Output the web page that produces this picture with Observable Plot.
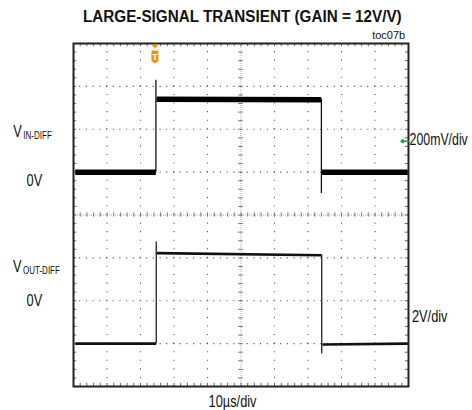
<!DOCTYPE html>
<html>
<head>
<meta charset="utf-8">
<script src="https://cdn.jsdelivr.net/npm/d3@7"></script>
<script src="https://cdn.jsdelivr.net/npm/@observablehq/plot@0.6"></script>
<style>
  body { margin: 0; background: #fff; }
  #title { position: relative; height: 28px; width: 472px; font: bold 17.2px "Liberation Sans", Arial, sans-serif; color: #111; }
  #title span { position: absolute; left: 82.7px; top: 5.5px; white-space: nowrap; transform: scaleX(0.887); transform-origin: 0 0; }
</style>
</head>
<body>
<div id="title"><span>LARGE-SIGNAL TRANSIENT (GAIN = 12V/V)</span></div>
<div id="chart"></div>
<script>
// ---- data (time in divisions of 10µs, amplitude in vertical divisions) ----
const chartTitle = "LARGE-SIGNAL TRANSIENT (GAIN = 12V/V)";
const figureId = "toc07b";

// input trace (200mV/div): flat segments
const inSegT0 = [0.05, 2.48, 7.42];
const inSegT1 = [2.46, 7.40, 9.98];
const inSegV0 = [1.00, 2.70, 1.00];
const inSegV1 = [1.00, 2.69, 1.00];
// input transitions
const inEdgeT = [2.46, 7.40];
const inEdgeFrom = [1.00, 2.70];
const inEdgeTo = [3.14, 0.50];

// output trace (2V/div): flat segments
const outSegT0 = [0.05, 2.49, 7.43];
const outSegT1 = [2.47, 7.41, 9.98];
const outSegV0 = [-3.00, -0.89, -3.02];
const outSegV1 = [-3.00, -0.94, -3.00];
// output transitions
const outEdgeT = [2.47, 7.41];
const outEdgeFrom = [-3.00, -0.94];
const outEdgeTo = [-0.63, -3.24];

// trigger and channel reference markers
const triggerT = [2.46];
const refArrowLevel = [1.72];

// labels
const labelText = ["V", "0V", "V", "0V", "200mV/div", "2V/div", "10µs/div"];
const labelX = [-1.80, -1.403, -1.809, -1.403, 10.03, 10.10, 4.03];
const labelY = [1.808, 0.665, -1.334, -2.111, 1.621, -2.500, -4.483];
const subText = ["IN-DIFF", "OUT-DIFF"];
const subX = [-1.50, -1.51];
const subY = [1.761, -1.376];
const idX = [8.916];
const idY = [4.105];

// ---- layout ----
const W = 472, H = 382, mT = 15, mB = 24, mL = 73, mR = 64;
const xdiv = (W - mL - mR) / 10, ydiv = (H - mT - mB) / 8;
const minorX = d3.range(1, 50).map(i => i / 5);
const minorY = d3.range(-19, 20).map(i => i / 5);
const tx = 3.2 / xdiv, ty = 3.2 / ydiv;

const trigSymbol = {
  draw(ctx) {
    ctx.moveTo(-3.5, 1); ctx.lineTo(3.5, 1); ctx.lineTo(0, 5); ctx.closePath();
    ctx.moveTo(-2, 7); ctx.lineTo(2, 7);
    ctx.quadraticCurveTo(3.5, 7, 3.5, 8.5);
    ctx.lineTo(3.5, 17.5); ctx.lineTo(0, 20); ctx.lineTo(-3.5, 17.5);
    ctx.lineTo(-3.5, 8.5); ctx.quadraticCurveTo(-3.5, 7, -2, 7); ctx.closePath();
  }
};

const font = "Liberation Sans, Arial, sans-serif";
const idx = n => d3.range(n);

const svg = Plot.plot({
  width: W, height: H,
  marginTop: mT, marginBottom: mB, marginLeft: mL, marginRight: mR,
  x: {domain: [0, 10], axis: null},
  y: {domain: [-4, 4], axis: null},
  style: {fontFamily: font, background: "white", overflow: "visible"},
  marks: [
    // dotted grid
    Plot.ruleX([1, 2, 3, 4, 6, 7, 8, 9], {stroke: "#555", strokeWidth: 1.1, strokeDasharray: `1.1,${ydiv / 5 - 1.1}`, strokeDashoffset: 0.55}),
    Plot.ruleY([-3, -2, -1, 1, 2, 3], {stroke: "#555", strokeWidth: 1.1, strokeDasharray: `1.1,${xdiv / 5 - 1.1}`, strokeDashoffset: 0.55}),
    // center cross
    Plot.ruleX([5], {stroke: "#aaa", strokeDasharray: "1,1"}),
    Plot.ruleY([0], {stroke: "#aaa", strokeDasharray: "1,1"}),
    Plot.ruleX(minorX, {x: d => d, y1: -0.05, y2: 0.05, stroke: "#777"}),
    Plot.ruleY(minorY, {y: d => d, x1: 5 - 0.07, x2: 5 + 0.07, stroke: "#777"}),
    // frame ticks
    Plot.ruleX(minorX, {x: d => d, y1: -4, y2: -4 + ty, stroke: "#666"}),
    Plot.ruleX(minorX, {x: d => d, y1: 4 - ty, y2: 4, stroke: "#666"}),
    Plot.ruleY(minorY, {y: d => d, x1: 0, x2: tx, stroke: "#666"}),
    Plot.ruleY(minorY, {y: d => d, x1: 10 - tx, x2: 10, stroke: "#666"}),
    // input trace
    Plot.link(idx(inSegT0.length), {x1: i => inSegT0[i], y1: i => inSegV0[i], x2: i => inSegT1[i], y2: i => inSegV1[i], stroke: "#000", strokeWidth: 5.5}),
    Plot.ruleX(idx(inEdgeT.length), {x: i => inEdgeT[i], y1: i => inEdgeFrom[i], y2: i => inEdgeTo[i], stroke: "#111", strokeWidth: 1.3}),
    // output trace
    Plot.link(idx(outSegT0.length), {x1: i => outSegT0[i], y1: i => outSegV0[i], x2: i => outSegT1[i], y2: i => outSegV1[i], stroke: "#111", strokeWidth: 2.6}),
    Plot.ruleX(idx(outEdgeT.length), {x: i => outEdgeT[i], y1: i => outEdgeFrom[i], y2: i => outEdgeTo[i], stroke: "#222", strokeWidth: 1.3}),
    // frame
    Plot.frame({stroke: "#222", strokeWidth: 2}),
    // trigger marker
    Plot.dot(triggerT, {x: d => d, y: () => 4, symbol: trigSymbol, r: 1, fill: "#F39200", stroke: "none", dx: -1}),
    Plot.text(triggerT, {x: d => d, y: () => 4, text: () => "T", dx: -1, dy: 13.5, fill: "white", fontWeight: "bold", fontSize: 9, lineAnchor: "middle"}),
    // channel 1 reference arrow
    Plot.arrow(refArrowLevel, {x1: () => 10, x2: () => 9.78, y1: d => d, y2: d => d, stroke: "#1a9b3a", strokeWidth: 1.6, headLength: 6, inset: 0}),
    // labels
    Plot.text(idx(labelText.length), {x: i => labelX[i], y: i => labelY[i], text: i => labelText[i], textAnchor: "start", lineAnchor: "bottom", fontSize: 16, fill: "#111"}),
    Plot.text(idx(subText.length), {x: i => subX[i], y: i => subY[i], text: i => subText[i], textAnchor: "start", lineAnchor: "bottom", fontSize: 10, fill: "#111"}),
    Plot.text(idx(1), {x: i => idX[i], y: i => idY[i], text: () => figureId, textAnchor: "start", lineAnchor: "bottom", fontSize: 11, fill: "#111"})
  ]
});
document.getElementById("chart").append(svg);

// condense label glyphs horizontally (narrow typeface look) with a transform
const ns = "http://www.w3.org/2000/svg";
const svgRect = svg.getBoundingClientRect();
Array.from(svg.querySelectorAll("text")).forEach(t => {
  const s = t.textContent;
  if (s === figureId || s === "T") return;
  const k = s === "200mV/div" ? 0.77 : 0.8;
  const x0 = t.getBoundingClientRect().left - svgRect.left;
  const g = document.createElementNS(ns, "g");
  g.setAttribute("transform", `translate(${x0} 0) scale(${k} 1) translate(${-x0} 0)`);
  t.parentNode.insertBefore(g, t);
  g.appendChild(t);
});
</script>
</body>
</html>
